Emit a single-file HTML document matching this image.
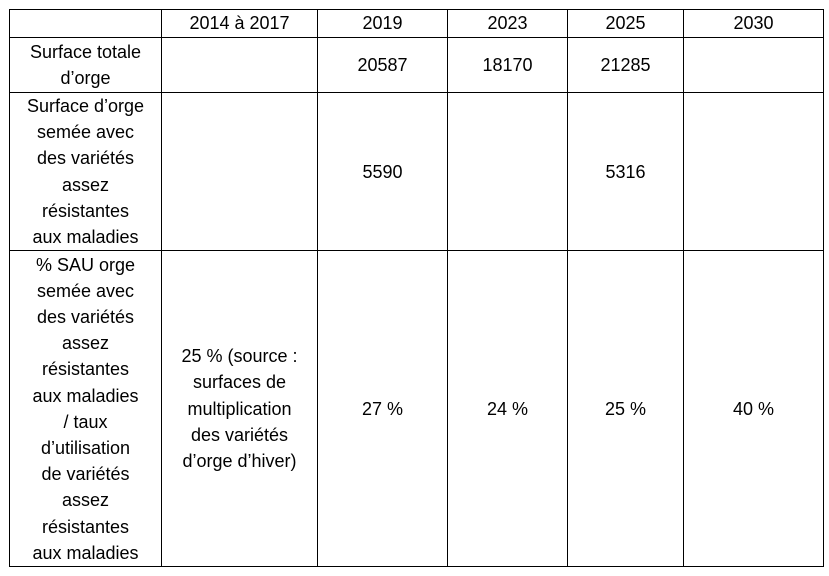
<!DOCTYPE html>
<html><head><meta charset="utf-8"><style>
body{margin:0;background:#fff;width:829px;height:576px;overflow:hidden;font-family:"Liberation Sans",sans-serif;}
table{position:absolute;left:9px;top:9px;border-collapse:collapse;table-layout:fixed;}
td{border:1.5px solid #000;text-align:center;vertical-align:middle;font-size:18px;line-height:26.2px;padding:0 2px;color:#000;white-space:nowrap;}
</style></head><body>
<table>
<colgroup><col style="width:152px"><col style="width:156px"><col style="width:130px"><col style="width:120px"><col style="width:116px"><col style="width:140px"></colgroup>
<tr style="height:28px"><td></td><td>2014 à 2017</td><td>2019</td><td>2023</td><td>2025</td><td>2030</td></tr>
<tr style="height:55px"><td>Surface totale<br>d’orge</td><td></td><td>20587</td><td>18170</td><td>21285</td><td></td></tr>
<tr style="height:158px"><td>Surface d’orge<br>semée avec<br>des variétés<br>assez<br>résistantes<br>aux maladies</td><td></td><td>5590</td><td></td><td>5316</td><td></td></tr>
<tr style="height:316px"><td>% SAU orge<br>semée avec<br>des variétés<br>assez<br>résistantes<br>aux maladies<br>/ taux<br>d’utilisation<br>de variétés<br>assez<br>résistantes<br>aux maladies</td><td>25 % (source :<br>surfaces de<br>multiplication<br>des variétés<br>d’orge d’hiver)</td><td>27 %</td><td>24 %</td><td>25 %</td><td>40 %</td></tr>
</table>
</body></html>
